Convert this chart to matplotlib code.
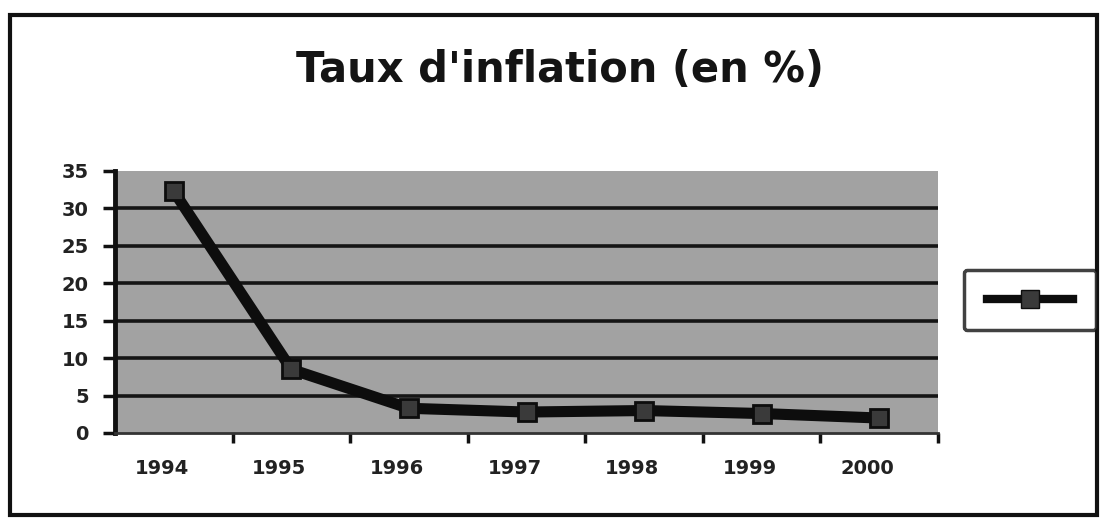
import matplotlib
matplotlib.use("Agg")
import matplotlib.pyplot as plt
import matplotlib.transforms as mtransforms
from matplotlib.patches import Rectangle
from matplotlib.lines import Line2D

years = ["1994", "1995", "1996", "1997", "1998", "1999", "2000"]
inflation = [32.3, 8.5, 3.3, 2.8, 3.0, 2.6, 2.0]
yticks = [0, 5, 10, 15, 20, 25, 30, 35]
title = "Taux d'inflation (en %)"

W, H = 1101, 519
fig = plt.figure(figsize=(W / 100, H / 100), dpi=100)
fig.patch.set_facecolor("white")

# outer chart frame
fig.patches.append(Rectangle((10 / W, 1 - 515 / H), 1087 / W, 500 / H,
                             transform=fig.transFigure, fill=False,
                             edgecolor="#111111", linewidth=3))

left, right, top, bottom = 115, 938, 171, 433
ax = fig.add_axes([left / W, 1 - bottom / H, (right - left) / W, (bottom - top) / H])
ax.set_facecolor("#a2a2a2")

x = list(range(len(years)))
ax.plot(x, inflation, color="#0d0d0d", linewidth=8, solid_joinstyle="round",
        solid_capstyle="round", marker="s", markersize=13,
        markerfacecolor="#3a3a3a", markeredgecolor="#0d0d0d", markeredgewidth=2,
        zorder=5)

ax.set_xlim(-0.5, len(years) - 0.5)
ax.set_ylim(0, 35)
ax.set_yticks(yticks)
ax.set_yticklabels([str(v) for v in yticks], fontsize=14, fontweight="bold", color="#222222")
for v in yticks[1:-1]:
    ax.axhline(v, color="#151515", linewidth=2.6, zorder=2)

ax.set_xticks(x)
ax.set_xticklabels(years, fontsize=14, fontweight="bold", color="#222222")
ax.set_xticks([i + 0.5 for i in x], minor=True)
ax.tick_params(axis="x", which="major", length=0, pad=19)
ax.tick_params(axis="x", which="minor", length=7, width=2.5, color="#111111")
ax.tick_params(axis="y", length=9, width=2.5, color="#111111", pad=10)
offset = mtransforms.ScaledTranslation(-12 / 100, 0, fig.dpi_scale_trans)
for lab in ax.get_xticklabels():
    lab.set_transform(lab.get_transform() + offset)

for side in ["top", "right"]:
    ax.spines[side].set_visible(False)
ax.spines["left"].set_linewidth(3.5)
ax.spines["left"].set_color("#111111")
ax.spines["bottom"].set_linewidth(2)
ax.spines["bottom"].set_color("#333333")

fig.text(560 / W, 1 - 70 / H, title, ha="center", va="center",
         fontsize=30, fontweight="bold", family="DejaVu Sans", color="#141414")

handle = Line2D([], [], color="#0d0d0d", linewidth=6, marker="s", markersize=13,
                markerfacecolor="#3a3a3a", markeredgecolor="#0d0d0d")
leg = fig.legend([handle], [""], loc="center", bbox_to_anchor=(1030 / W, 1 - 300 / H),
                 frameon=True, fancybox=True, handlelength=5.6, handletextpad=0,
                 borderpad=1.5, borderaxespad=0, fontsize=11)
leg.get_frame().set_edgecolor("#111111")
leg.get_frame().set_linewidth(2.5)

fig.savefig("out.png", dpi=100, facecolor="white")
